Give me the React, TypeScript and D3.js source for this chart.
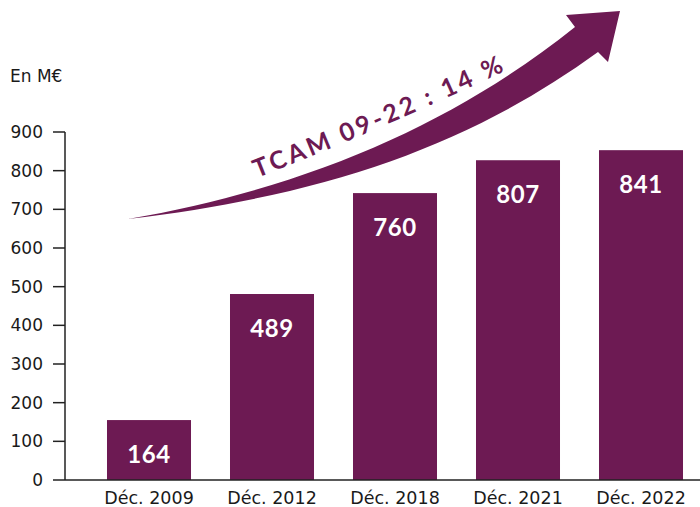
import React from "react";
import * as d3 from "d3";

const categories = ["Déc. 2009", "Déc. 2012", "Déc. 2018", "Déc. 2021", "Déc. 2022"];
const barValues = [155, 481, 742, 827, 853];
const valueLabels = ["164", "489", "760", "807", "841"];
const yTicks = [0, 100, 200, 300, 400, 500, 600, 700, 800, 900];
const unitLabel = "En M€";
const arrowLabel = "TCAM 09-22 : 14 %";

const W = 700;
const H = 507;
const COLOR = "#6d1a53";

export default function App() {
  const y = d3.scaleLinear().domain([0, 900]).range([480, 132]);
  const x = d3
    .scaleBand<string>()
    .domain(categories)
    .range([87.5, 702.5])
    .paddingInner(0.317)
    .paddingOuter(0.1585);

  const arrow =
    "M128,219 C308,188 455,123 575,27 L566,15 L620,11 L608,62 L598,52 C470,145 328,195 128,219 Z";
  const textPath = d3.path();
  textPath.moveTo(257, 178);
  textPath.quadraticCurveTo(385, 128, 515, 66);

  return (
    <svg
      width={W}
      height={H}
      style={{ position: "absolute", left: 0, top: 0, background: "#fff" }}
    >
      <text x={10} y={82} fontFamily="DejaVu Sans" fontSize={17} fill="#1a1a1a">
        {unitLabel}
      </text>
      <line x1={65} x2={65} y1={y(900)} y2={y(0)} stroke="#222" strokeWidth={1.5} />
      {yTicks.map((t) => (
        <g key={t}>
          <line x1={53} x2={65} y1={y(t)} y2={y(t)} stroke="#222" strokeWidth={1.5} />
          <text
            x={43}
            y={y(t)}
            dy="0.36em"
            textAnchor="end"
            fontFamily="DejaVu Sans"
            fontSize={17}
            fill="#1a1a1a"
          >
            {t}
          </text>
        </g>
      ))}
      {categories.map((c, i) => (
        <g key={c}>
          <rect
            x={x(c)}
            y={y(barValues[i])}
            width={x.bandwidth()}
            height={y(0) - y(barValues[i])}
            fill={COLOR}
          />
          <text
            x={(x(c) as number) + x.bandwidth() / 2}
            y={y(barValues[i]) + 34}
            dy="0.36em"
            textAnchor="middle"
            fontFamily="Lato"
            fontWeight="bold"
            fontSize={24}
            letterSpacing={0.5}
            fill="#fff"
          >
            {valueLabels[i]}
          </text>
          <text
            x={(x(c) as number) + x.bandwidth() / 2}
            y={504}
            textAnchor="middle"
            fontFamily="DejaVu Sans"
            fontSize={17.5}
            fill="#1a1a1a"
          >
            {c}
          </text>
        </g>
      ))}
      <line x1={65} x2={700} y1={480} y2={480} stroke="#222" strokeWidth={1.5} />
      <path d={arrow} fill={COLOR} />
      <path id="tcamPath" d={textPath.toString()} fill="none" />
      <text fontFamily="Lato" fontWeight="bold" fontSize={25} fill={COLOR}>
        <textPath href="#tcamPath" textLength={270} lengthAdjust="spacing">
          {arrowLabel}
        </textPath>
      </text>
    </svg>
  );
}
